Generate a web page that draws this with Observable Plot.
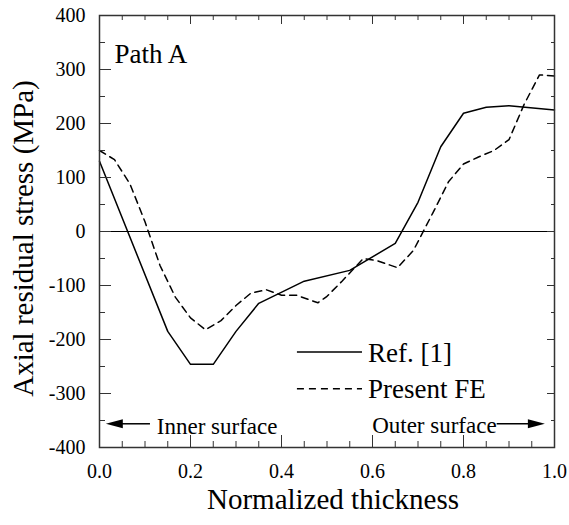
<!DOCTYPE html>
<html>
<head>
<meta charset="utf-8">
<script src="https://cdn.jsdelivr.net/npm/d3@7"></script>
<script src="https://cdn.jsdelivr.net/npm/@observablehq/plot@0.6"></script>
<style>
  html, body { margin: 0; padding: 0; background: #fff; }
  #chart svg { display: block; font-family: "Liberation Serif", "Times New Roman", serif; }
</style>
</head>
<body>
<div id="chart"></div>
<script>
// Ref. [1] (solid)
const refX = [0, 0.15, 0.2, 0.25, 0.3, 0.35, 0.45, 0.55, 0.65, 0.7, 0.75, 0.8, 0.85, 0.9, 1.0];
const refY = [130, -185, -246, -246, -185, -133, -92, -72, -22, 54, 157, 219, 230, 233, 225];
// Present FE (dashed)
const feX = [0, 0.033, 0.067, 0.1, 0.133, 0.167, 0.2, 0.233, 0.267, 0.3, 0.333, 0.367, 0.4, 0.433, 0.48, 0.5, 0.533, 0.58, 0.61, 0.655, 0.69, 0.733, 0.767, 0.8, 0.833, 0.867, 0.9, 0.933, 0.967, 1.0];
const feY = [150, 133, 88, 18, -63, -122, -160, -182, -165, -137, -114, -108, -118, -118, -132, -120, -92, -50, -54, -67, -35, 35, 92, 125, 138, 150, 170, 235, 290, 288];
// ticks
const xMajor = [0, 0.2, 0.4, 0.6, 0.8, 1.0];
const xMinor = [0.05, 0.1, 0.15, 0.25, 0.3, 0.35, 0.45, 0.5, 0.55, 0.65, 0.7, 0.75, 0.85, 0.9, 0.95];
const yMajor = [-400, -300, -200, -100, 0, 100, 200, 300, 400];
const yMinor = [-350, -250, -150, -50, 50, 150, 250, 350];
const seriesNames = ["Ref. [1]", "Present FE"];
const surfaceLabels = ["Inner surface", "Outer surface"];

const ref = refX.map((x, i) => ({x, y: refY[i]}));
const fe = feX.map((x, i) => ({x, y: feY[i]}));

const FONT = '"Liberation Serif", "Times New Roman", serif';
const axisColor = "#333";
const hide = {fill: "none", label: null, stroke: axisColor};

function overlay(index, scales, values, dims) {
  const g = d3.create("svg:g").attr("font-family", FONT).attr("fill", "black").attr("text-anchor", "start");
  const x = scales.x, y = scales.y;
  // legend
  const lx0 = x(0.435), lx1 = x(0.578);
  const ly0 = y(-224), ly1 = y(-292);
  g.append("line").attr("x1", lx0).attr("x2", lx1).attr("y1", ly0).attr("y2", ly0)
    .attr("stroke", "black").attr("stroke-width", 1.5);
  g.append("line").attr("x1", lx0).attr("x2", lx1).attr("y1", ly1).attr("y2", ly1)
    .attr("stroke", "black").attr("stroke-width", 1.5).attr("stroke-dasharray", "7,5");
  g.append("text").attr("x", lx1 + 6).attr("y", ly0 + 10).attr("font-size", 27).attr("text-anchor", "start").text(seriesNames[0]);
  g.append("text").attr("x", lx1 + 6).attr("y", ly1 + 9).attr("font-size", 27).attr("text-anchor", "start").text(seriesNames[1]);
  // arrows
  const ay = y(-357);
  const head = (tip, dir) => {
    const L = 17, W = 4.5;
    return `M${tip},${ay} L${tip - dir * L},${ay - W} L${tip - dir * L},${ay + W} Z`;
  };
  const tipL = x(0.015), tipR = x(0.98);
  g.append("line").attr("x1", x(0.112)).attr("x2", tipL + 15).attr("y1", ay).attr("y2", ay).attr("stroke", "black").attr("stroke-width", 1.5);
  g.append("path").attr("d", head(tipL, -1));
  g.append("text").attr("x", x(0.127)).attr("y", ay + 10).attr("font-size", 23).attr("text-anchor", "start").text(surfaceLabels[0]);
  g.append("text").attr("x", x(0.874)).attr("y", ay + 9).attr("font-size", 23).attr("text-anchor", "end").text(surfaceLabels[1]);
  g.append("line").attr("x1", x(0.874)).attr("x2", tipR - 15).attr("y1", ay).attr("y2", ay).attr("stroke", "black").attr("stroke-width", 1.5);
  g.append("path").attr("d", head(tipR, 1));
  return g.node();
}

const chart = Plot.plot({
  width: 569,
  height: 525,
  marginLeft: 99,
  marginRight: 15,
  marginTop: 15,
  marginBottom: 78,
  style: {fontFamily: FONT, color: "black", background: "white"},
  x: {domain: [0, 1]},
  y: {domain: [-400, 400]},
  marks: [
    Plot.ruleY([0], {stroke: "black", strokeWidth: 1}),
    Plot.line(ref, {x: "x", y: "y", stroke: "black", strokeWidth: 1.5}),
    Plot.line(fe, {x: "x", y: "y", stroke: "black", strokeWidth: 1.5, strokeDasharray: "7,5"}),
    // left / bottom axes with labels
    Plot.axisY(yMajor, {anchor: "left", tickSize: -12, tickPadding: 26, fontSize: 20, fontFamily: FONT, label: null, stroke: axisColor, tickFormat: d => String(d)}),
    Plot.axisY(yMinor, {anchor: "left", tickSize: -6, ...hide}),
    Plot.axisX(xMajor, {anchor: "bottom", tickSize: -12, tickPadding: 28, fontSize: 20, fontFamily: FONT, label: null, stroke: axisColor, tickFormat: d => d.toFixed(1)}),
    Plot.axisX(xMinor, {anchor: "bottom", tickSize: -6, ...hide}),
    // mirrored axes
    Plot.axisY(yMajor, {anchor: "right", tickSize: -8, ...hide}),
    Plot.axisY(yMinor, {anchor: "right", tickSize: -4, ...hide}),
    Plot.axisX(xMajor, {anchor: "top", tickSize: -8, ...hide}),
    Plot.axisX(xMinor, {anchor: "top", tickSize: -4, ...hide}),
    Plot.frame({stroke: axisColor, strokeWidth: 1.5}),
    // titles
    Plot.text(["Normalized thickness"], {frameAnchor: "bottom", dx: 6, dy: 61, fontSize: 29, fontFamily: FONT, fill: "black"}),
    Plot.text(["Axial residual stress (MPa)"], {frameAnchor: "left", textAnchor: "middle", dx: -76, dy: 7, rotate: -90, fontSize: 29, fontFamily: FONT, fill: "black"}),
    Plot.text(["Path A"], {frameAnchor: "top-left", dx: 15, dy: 28, fontSize: 27, fontFamily: FONT, textAnchor: "start", fill: "black"}),
    overlay
  ]
});
document.getElementById("chart").appendChild(chart);
</script>
</body>
</html>
